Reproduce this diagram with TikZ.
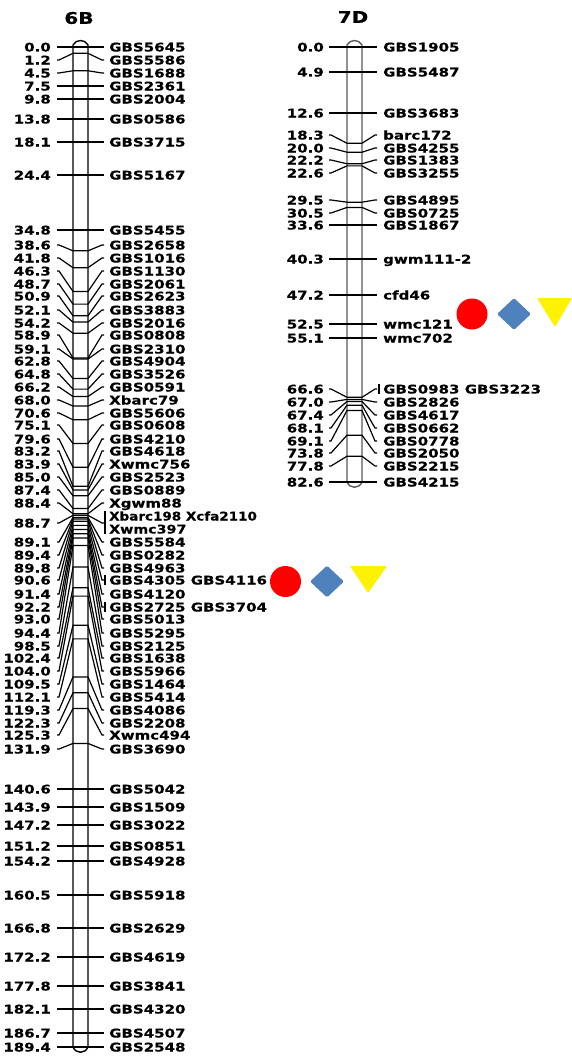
\documentclass[tikz,border=0pt]{standalone}
\usepackage{fontspec}
\setmainfont{DejaVu Sans}[FakeStretch=1.25, BoldFeatures={FakeBold=0.5}]
\usetikzlibrary{shapes.geometric}
\definecolor{gemblue}{HTML}{4F81BD}
\begin{document}
\begin{tikzpicture}[x=1pt,y=-1pt,font=\bfseries\fontsize{12}{13}\selectfont,
    cmlab/.style={anchor=east, inner sep=0pt, text height=9pt, text depth=0pt},
    genelab/.style={anchor=west, inner sep=0pt, text height=9pt, text depth=0pt},
    conn/.style={line width=1.2pt},
    bar/.style={line width=1.4pt},
    title/.style={font=\bfseries\fontsize{16}{17}\selectfont, inner sep=0pt},
    spot/.style={circle, fill=red, minimum size=31pt, inner sep=0pt},
    gem/.style={diamond, fill=gemblue, minimum width=34pt, minimum height=32pt, inner sep=0pt, rounded corners=1.5pt},
    wedge/.style={fill=yellow, rounded corners=1pt}]
  \useasboundingbox (0,0) rectangle (572,1057);
  % 6B
  \node[title] (t6) at (79,18) {6B};
  \draw[bar] (73,1047) -- (73,45) .. controls (76,39) and (85,39) .. (88,45) -- (88,1047) .. controls (85,1054) and (76,1054) .. cycle;
  \foreach \cm/\yy/\name [count=\i] in {
      0.0/47/GBS5645, 1.2/60/GBS5586, 4.5/73/GBS1688, 7.5/86/GBS2361, 9.8/99/GBS2004,
      13.8/119/GBS0586, 18.1/142/GBS3715, 24.4/175/GBS5167, 34.8/230/GBS5455, 38.6/245/GBS2658,
      41.8/258/GBS1016, 46.3/271/GBS1130, 48.7/284/GBS2061, 50.9/296/GBS2623, 52.1/310/GBS3883,
      54.2/323/GBS2016, 58.9/335/GBS0808, 59.1/349/GBS2310, 62.8/361/GBS4904, 64.8/374/GBS3526,
      66.2/387/GBS0591, 68.0/400/Xbarc79, 70.6/413/GBS5606, 75.1/425/GBS0608, 79.6/439/GBS4210,
      83.2/451/GBS4618, 83.9/464/Xwmc756, 85.0/477/GBS2523, 87.4/490/GBS0889, 88.4/503/Xgwm88,
      88.7/523/{}, 89.1/542/GBS5584, 89.4/555/GBS0282, 89.8/568/GBS4963, 90.6/580/{GBS4305 GBS4116},
      91.4/594/GBS4120, 92.2/607/{GBS2725 GBS3704}, 93.0/619/GBS5013, 94.4/633/GBS5295, 98.5/646/GBS2125,
      102.4/658/GBS1638, 104.0/671/GBS5966, 109.5/684/GBS1464, 112.1/697/GBS5414, 119.3/710/GBS4086,
      122.3/723/GBS2208, 125.3/735/Xwmc494, 131.9/749/GBS3690, 140.6/789/GBS5042, 143.9/807/GBS1509,
      147.2/825/GBS3022, 151.2/846/GBS0851, 154.2/861/GBS4928, 160.5/895/GBS5918, 166.8/928/GBS2629,
      172.2/957/GBS4619, 177.8/986/GBS3841, 182.1/1009/GBS4320, 186.7/1033/GBS4507, 189.4/1047/GBS2548} {
    \pgfmathsetmacro{\ym}{abs(47+5.28*\cm-\yy)<1.6 ? \yy : 47+5.28*\cm}
    \node[cmlab] (la\i) at (51,\yy) {\cm};
    \node[genelab] (ra\i) at (109,\yy) {\name};
    \coordinate (pa\i) at (73,\ym);
    \coordinate (qa\i) at (88,\ym);
    \draw[conn] ([xshift=6pt]la\i.east) -- ++(2,0) -- (pa\i) -- (qa\i) -- ([xshift=-7pt]ra\i.west) -- ([xshift=-5pt]ra\i.west);
  }
  \node[genelab] (xb) at (109,516) {\scalebox{.9}[1]{Xbarc198 Xcfa2110}};
  \node[genelab] (xw) at (109,529) {\scalebox{.95}[1]{Xwmc397}};
  \draw[conn] ([xshift=-4pt]xb.north west) -- ([xshift=-4pt]xw.south west);
  \draw[conn] ([xshift=-4pt]ra35.north west) -- ([xshift=-4pt]ra35.south west);
  \draw[conn] ([xshift=-4pt]ra37.north west) -- ([xshift=-4pt]ra37.south west);
  % 7D
  \node[title] (t7) at (353,17) {7D};
  \draw[bar, black!65] (347,482) -- (347,45) .. controls (350,39) and (359,39) .. (362,45) -- (362,482) .. controls (359,489) and (350,489) .. cycle;
  \foreach \cm/\yy/\name [count=\i] in {
      0.0/47/GBS1905, 4.9/72/GBS5487, 12.6/113/GBS3683, 18.3/135/barc172, 20.0/148/GBS4255,
      22.2/160/GBS1383, 22.6/173/GBS3255, 29.5/200/GBS4895, 30.5/213/GBS0725, 33.6/225/GBS1867,
      40.3/259/gwm111-2, 47.2/295/cfd46, 52.5/324/wmc121, 55.1/338/wmc702, 66.6/389/{GBS0983 GBS3223},
      67.0/402/GBS2826, 67.4/415/GBS4617, 68.1/428/GBS0662, 69.1/441/GBS0778, 73.8/453/GBS2050,
      77.8/466/GBS2215, 82.6/482/GBS4215} {
    \pgfmathsetmacro{\ym}{abs(47+5.26*\cm-\yy)<1.6 ? \yy : 47+5.26*\cm}
    \node[cmlab] (lb\i) at (324,\yy) {\cm};
    \node[genelab] (rb\i) at (383,\yy) {\name};
    \coordinate (pb\i) at (347,\ym);
    \coordinate (qb\i) at (362,\ym);
    \draw[conn] ([xshift=5pt]lb\i.east) -- ++(2,0) -- (pb\i) -- (qb\i) -- ([xshift=-8pt]rb\i.west) -- ([xshift=-6pt]rb\i.west);
  }
  \draw[conn] ([xshift=-4pt]rb15.north west) -- ([xshift=-4pt]rb15.south west);
  % trait symbols
  \node[spot] (s1) at (285.5,581.5) {};
  \node[gem] (g1) at (327,581.5) {};
  \fill[wedge] (350,566) -- (387,566) -- (368,593) -- cycle;
  \node[spot] (s2) at (472,314) {};
  \node[gem] (g2) at (514,314) {};
  \fill[wedge] (537,298) -- (572,298) -- (555,327) -- cycle;
\end{tikzpicture}
\end{document}
